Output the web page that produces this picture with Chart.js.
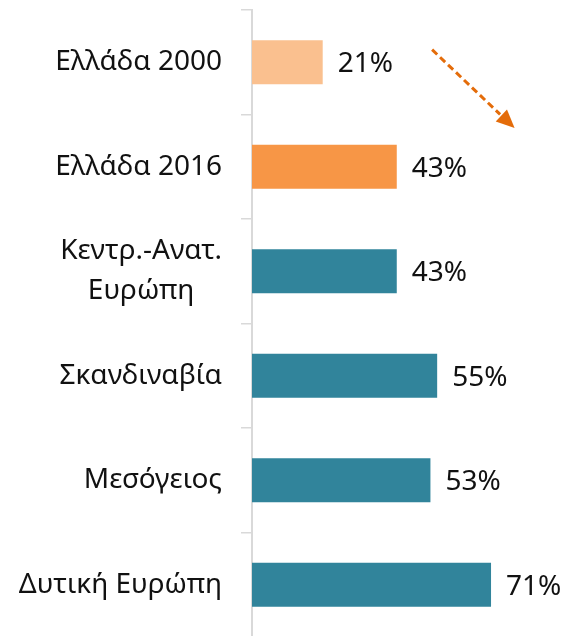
<!DOCTYPE html>
<html>
<head>
<meta charset="utf-8">
<script src="https://cdn.jsdelivr.net/npm/chart.js@4/dist/chart.umd.min.js"></script>
<style>
  html, body { margin: 0; padding: 0; background: #fff; overflow: hidden; }
  #wrap { width: 568px; height: 640px; }
</style>
</head>
<body>
<div id="wrap"><canvas id="barChart"></canvas></div>
<script>
const categories = [['Ελλάδα 2000'], ['Ελλάδα 2016'], ['Κεντρ.-Ανατ.', 'Ευρώπη'], ['Σκανδιναβία'], ['Μεσόγειος'], ['Δυτική Ευρώπη']];
const shares = [21, 43, 43, 55, 53, 71];
const barColors = ['#FAC08F', '#F79646', '#31849B', '#31849B', '#31849B', '#31849B'];

const FONT = '28px "Noto Sans", "Open Sans", sans-serif';

// labels on the left: block right-aligned, lines centred inside the block
const catLabels = {
    id: 'catLabels',
    afterDraw(chart) {
        const ctx = chart.ctx;
        const y = chart.scales.y;
        const right = chart.chartArea.left - 30;
        ctx.save();
        ctx.font = FONT;
        ctx.fillStyle = '#111';
        ctx.textAlign = 'center';
        ctx.textBaseline = 'middle';
        categories.forEach((lines, i) => {
            const w = Math.max(...lines.map(l => ctx.measureText(l).width));
            const cy = y.getPixelForValue(i);
            const lh = 40;
            lines.forEach((l, j) => {
                ctx.fillText(l, right - w / 2, cy + (j - (lines.length - 1) / 2) * lh);
            });
        });
        ctx.restore();
    }
};

// value labels after each bar
const valueLabels = {
    id: 'valueLabels',
    afterDatasetsDraw(chart) {
        const ctx = chart.ctx;
        const meta = chart.getDatasetMeta(0);
        ctx.save();
        ctx.font = FONT;
        ctx.fillStyle = '#111';
        ctx.textAlign = 'left';
        ctx.textBaseline = 'middle';
        meta.data.forEach((bar, i) => {
            ctx.fillText(shares[i] + '%', bar.x + 15, bar.y + 2);
        });
        ctx.restore();
    }
};

// dashed trend arrow, placed in data space
const arrowFrom = { x: 53.5, y: -0.12 };
const arrowTo = { x: 78, y: 0.63 };
const trendArrow = {
    id: 'trendArrow',
    afterDraw(chart) {
        const { x, y } = chart.scales;
        const x1 = x.getPixelForValue(arrowFrom.x), y1 = y.getPixelForValue(arrowFrom.y);
        const x2 = x.getPixelForValue(arrowTo.x), y2 = y.getPixelForValue(arrowTo.y);
        const ang = Math.atan2(y2 - y1, x2 - x1);
        const head = 20;
        const ctx = chart.ctx;
        ctx.save();
        ctx.strokeStyle = '#E46C0A';
        ctx.fillStyle = '#E46C0A';
        ctx.lineWidth = 3;
        ctx.setLineDash([7, 4]);
        ctx.beginPath();
        ctx.moveTo(x1, y1);
        ctx.lineTo(x2 - head * Math.cos(ang), y2 - head * Math.sin(ang));
        ctx.stroke();
        ctx.setLineDash([]);
        ctx.beginPath();
        ctx.moveTo(x2, y2);
        ctx.lineTo(x2 - head * Math.cos(ang - 0.42), y2 - head * Math.sin(ang - 0.42));
        ctx.lineTo(x2 - head * Math.cos(ang + 0.42), y2 - head * Math.sin(ang + 0.42));
        ctx.closePath();
        ctx.fill();
        ctx.restore();
    }
};

const barCtx = document.getElementById('barChart').getContext('2d');
new Chart(barCtx, {
    type: 'bar',
    data: {
        labels: categories,
        datasets: [{
            data: shares,
            backgroundColor: barColors,
            borderWidth: 0,
            barPercentage: 0.42,
            categoryPercentage: 1
        }]
    },
    options: {
        indexAxis: 'y',
        responsive: true,
        maintainAspectRatio: false,
        animation: false,
        events: [],
        layout: { padding: { top: 10, right: 13, bottom: 3, left: 0 } },
        plugins: { legend: { display: false }, tooltip: { enabled: false } },
        scales: {
            x: { display: false, min: 0, max: 90 },
            y: {
                afterFit(scale) { scale.width = 252; },
                ticks: { color: 'transparent', font: { size: 1 }, padding: 0 },
                grid: {
                    offset: true,
                    drawOnChartArea: false,
                    drawTicks: true,
                    tickLength: 11,
                    color: '#D9D9D9',
                    lineWidth: 1.5
                },
                border: { display: true, color: '#D9D9D9', width: 2 }
            }
        }
    },
    plugins: [catLabels, valueLabels, trendArrow]
});
</script>
</body>
</html>
